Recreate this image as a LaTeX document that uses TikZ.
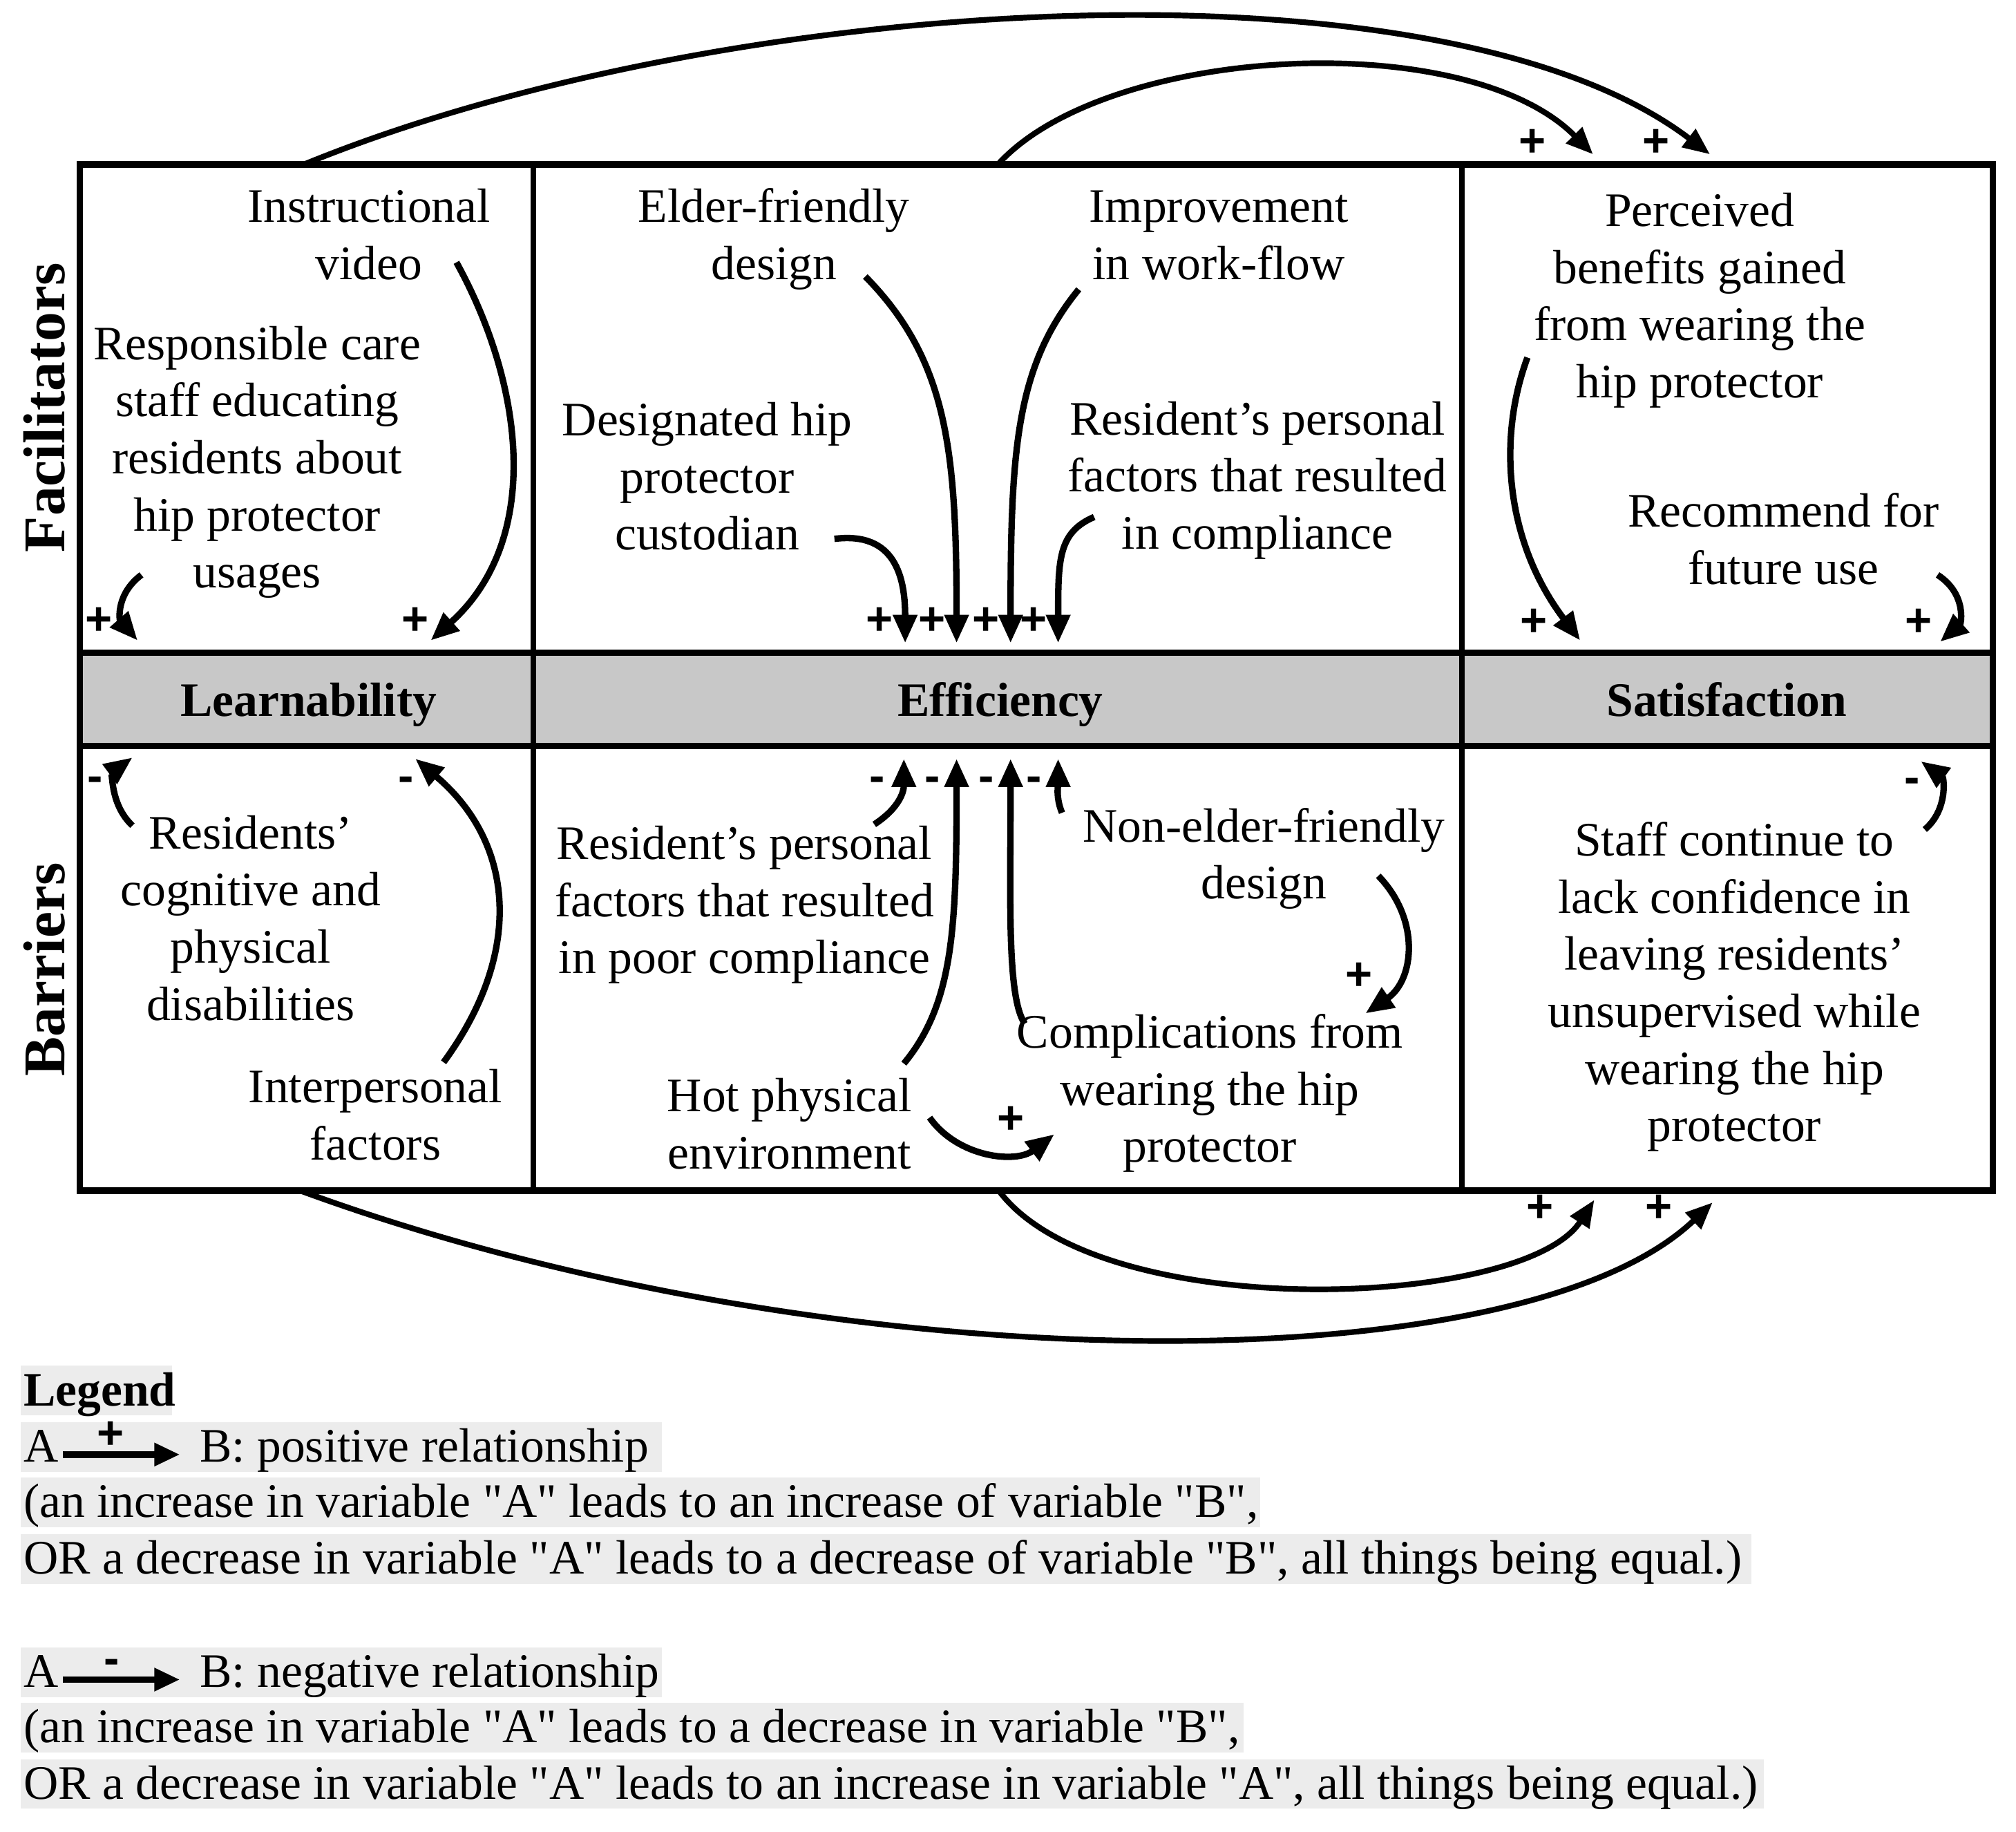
\documentclass[tikz,border=0pt]{standalone}
\usepackage{fontspec}
\setmainfont{Liberation Serif}[Ligatures=TeXOff]
\newfontfamily\signfont{Liberation Sans}
\usetikzlibrary{arrows.meta}
\definecolor{bandgray}{RGB}{200,200,200}
\definecolor{hlgray}{RGB}{236,236,236}
\begin{document}
\begin{tikzpicture}[x=0.5pt,y=-0.5pt,
  txt/.style={align=center,font=\fontsize{18.7}{22.2}\selectfont,inner sep=0pt,anchor=base},
  hdr/.style={font=\fontsize{18.7}{22.2}\selectfont\bfseries,inner sep=0pt,anchor=base},
  side/.style={font=\fontsize{23}{27}\selectfont\bfseries,rotate=90,inner sep=0pt,anchor=base},
  sgn/.style={font=\signfont\fontsize{18}{20}\selectfont\bfseries,inner sep=0pt},
  arr/.style={line width=2.5pt,-{Triangle[length=11pt,width=9pt]}},
  longarr/.style={line width=2.2pt,-{Triangle[length=10.5pt,width=8.5pt]}},
  frame/.style={line width=2.6pt},
  divider/.style={line width=2.2pt},
  leg/.style={font=\fontsize{18.7}{22.2}\selectfont,inner sep=0pt,anchor=base west},
]
\useasboundingbox (0,0) rectangle (1568,1424.5);
\fill[white] (0,0) rectangle (1568,1424.5);

% ---------- grid ----------
\fill[bandgray] (62,507.6) rectangle (1550,580);
\draw[divider] (415,128) -- (415,926);
\draw[divider] (1137,128) -- (1137,926);
\draw[frame] (62,507.6) -- (1550,507.6);
\draw[frame] (62,580) -- (1550,580);
\draw[frame] (62,128) rectangle (1550,926);

% ---------- row and column labels ----------
\node[side] (fac) at (50,317) {Facilitators};
\node[side] (bar) at (50,754) {Barriers};
\node[hdr] (learn) at (240,557) {Learnability};
\node[hdr] (effic) at (778,557) {Efficiency};
\node[hdr] (satis) at (1343,557) {Satisfaction};

% ---------- facilitator texts (base = last line) ----------
\node[txt] (vid) at (287,217.1) {Instructional\\video};
\node[txt] (resp) at (200,457.2) {Responsible care\\staff educating\\residents about\\hip protector\\usages};
\node[txt] (elder) at (602,217.1) {Elder-friendly\\design};
\node[txt] (work) at (948,217.1) {Improvement\\in work-flow};
\node[txt] (cust) at (550,427.6) {Designated hip\\protector\\custodian};
\node[txt] (rcomp) at (978,426.8) {Resident’s personal\\factors that resulted\\in compliance};
\node[txt] (perc) at (1322,309.2) {Perceived\\benefits gained\\from wearing the\\hip protector};
\node[txt] (recom) at (1387,454.1) {Recommend for\\future use};

% ---------- barrier texts ----------
\node[txt] (cogn) at (195,793.2) {Residents’\\cognitive and\\physical\\disabilities};
\node[txt] (inter) at (292,901.8) {Interpersonal\\factors};
\node[txt] (poor) at (579,757) {Resident’s personal\\factors that resulted\\in poor compliance};
\node[txt] (nonel) at (983,698.9) {Non-elder-friendly\\design};
\node[txt] (compl) at (941,903.7) {Complications from\\wearing the hip\\protector};
\node[txt] (hot) at (614,908.7) {Hot physical\\environment};
\node[txt] (staff) at (1349,887.5) {Staff continue to\\lack confidence in\\leaving residents’\\unsupervised while\\wearing the hip\\protector};

% ---------- connector end points ----------
\coordinate (lT) at (236,128);  \coordinate (eT) at (776,128);
\coordinate (sT1) at (1239,120); \coordinate (sT2) at (1330,120);
\coordinate (lB) at (234,926);  \coordinate (eB) at (777,926);
\coordinate (sB1) at (1240,933); \coordinate (sB2) at (1332,935);

\coordinate (vidS) at (355,204);   \coordinate (lUp2) at (335,498);
\coordinate (respS) at (110,447);  \coordinate (lUp1) at (107,498);
\coordinate (custS) at (649,419);  \coordinate (eUp1) at (704,500);
\coordinate (elderS) at (673,215); \coordinate (eUp2) at (744,500);
\coordinate (workS) at (839,225);  \coordinate (eUp3) at (786,500);
\coordinate (rcompS) at (851,402); \coordinate (eUp4) at (823,500);
\coordinate (percS) at (1188,278); \coordinate (sUp1) at (1229,498);
\coordinate (recomS) at (1507,447);\coordinate (sUp2) at (1509,499);

\coordinate (cognS) at (103,642);  \coordinate (lDn1) at (103,589);
\coordinate (interS) at (345,826); \coordinate (lDn2) at (323,590);
\coordinate (poorS) at (680,641);  \coordinate (eDn1) at (703,590);
\coordinate (hotS) at (703,827);   \coordinate (eDn2) at (744,590);
\coordinate (complS) at (797,796); \coordinate (eDn3) at (786,590);
\coordinate (nonelS) at (826,632); \coordinate (eDn4) at (823,590);
\coordinate (nonelS2) at (1072,681); \coordinate (complE1) at (1062,788);
\coordinate (hotS2) at (723,869);  \coordinate (complE2) at (820,882);
\coordinate (staffS) at (1497,645);\coordinate (sDn1) at (1494,592);

% ---------- long arcs ----------
\draw[longarr] (lT) .. controls (560,-5) and (1120,-40) .. (sT2);
\draw[longarr] (eT) .. controls (860,35) and (1140,20) .. (sT1);
\draw[longarr] (lB) .. controls (640,1075) and (1180,1080) .. (sB2);
\draw[longarr] (eB) .. controls (855,1030) and (1185,1018) .. (sB1);
\node[sgn] (p1) at (1192,111) {+};
\node[sgn] (p2) at (1288,111) {+};
\node[sgn] (p3) at (1198,940) {+};
\node[sgn] (p4) at (1290,940) {+};

% ---------- facilitator arrows ----------
\draw[arr] (vidS) .. controls (408,300) and (422,420) .. (lUp2);
\draw[arr] (respS) .. controls (90,462) and (93,482) .. (lUp1);
\draw[arr] (custS) .. controls (697,413) and (704,450) .. (eUp1);
\draw[arr] (elderS) .. controls (737,280) and (744,350) .. (eUp2);
\draw[arr] (workS) .. controls (790,285) and (786,350) .. (eUp3);
\draw[arr] (rcompS) .. controls (823,414) and (823,435) .. (eUp4);
\draw[arr] (percS) .. controls (1165,340) and (1170,420) .. (sUp1);
\draw[arr] (recomS) .. controls (1530,462) and (1525,485) .. (sUp2);
\node[sgn] (p5) at (77,483) {+};
\node[sgn] (p6) at (323,483) {+};
\node[sgn] (p7) at (684,483) {+};
\node[sgn] (p8) at (725,483) {+};
\node[sgn] (p9) at (767,483) {+};
\node[sgn] (p10) at (804,483) {+};
\node[sgn] (p11) at (1193,484) {+};
\node[sgn] (p12) at (1492,484) {+};

% ---------- barrier arrows ----------
\draw[arr] (cognS) .. controls (85,625) and (88,600) .. (lDn1);
\draw[arr] (interS) .. controls (408,740) and (400,655) .. (lDn2);
\draw[arr] (poorS) .. controls (700,628) and (703,615) .. (eDn1);
\draw[arr] (hotS) .. controls (742,780) and (744,720) .. (eDn2);
\draw[arr] (complS) .. controls (783,775) and (786,700) .. (eDn3);
\draw[arr] (nonelS) .. controls (821,620) and (823,610) .. (eDn4);
\draw[arr] (nonelS2) .. controls (1105,715) and (1100,762) .. (complE1);
\draw[arr] (hotS2) .. controls (745,900) and (790,905) .. (complE2);
\draw[arr] (staffS) .. controls (1515,630) and (1512,605) .. (sDn1);
\node[sgn] (m1) at (74,610) {-};
\node[sgn] (m2) at (316,610) {-};
\node[sgn] (m3) at (682,610) {-};
\node[sgn] (m4) at (725,610) {-};
\node[sgn] (m5) at (767,610) {-};
\node[sgn] (m6) at (804,610) {-};
\node[sgn] (m7) at (1487,611) {-};
\node[sgn] (p13) at (1057,759) {+};
\node[sgn] (p14) at (786,871) {+};

% ---------- legend ----------
\fill[hlgray] (16,1062) rectangle (134,1100.5);
\fill[hlgray] (16,1106) rectangle (515,1144.5);
\fill[hlgray] (16,1149) rectangle (980,1187.5);
\fill[hlgray] (16,1193) rectangle (1362,1231.5);
\fill[hlgray] (16,1281) rectangle (515,1319.5);
\fill[hlgray] (16,1324) rectangle (967,1362.5);
\fill[hlgray] (16,1368) rectangle (1372,1406.5);

\node[leg,font=\fontsize{18.7}{22.2}\selectfont\bfseries] (legend) at (18,1093) {Legend};
\node[leg] (pa) at (18,1137) {A};
\node[leg] (pb) at (155,1137) {B: positive relationship};
\coordinate (pas) at (49,1131); \coordinate (pae) at (140,1131);
\draw[line width=2.6pt,-{Triangle[length=10pt,width=8.5pt]}] (pas) -- (pae);
\node[sgn] (lp) at (86,1116) {+};
\node[leg] (pl2) at (18,1180) {(an increase in variable "A" leads to an increase of variable "B",};
\node[leg] (pl3) at (18,1224) {OR a decrease in variable "A" leads to a decrease of variable "B", all things being equal.)};

\node[leg] (na) at (18,1312) {A};
\node[leg] (nb) at (155,1312) {B: negative relationship};
\coordinate (nas) at (49,1306); \coordinate (nae) at (140,1306);
\draw[line width=2.6pt,-{Triangle[length=10pt,width=8.5pt]}] (nas) -- (nae);
\node[sgn] (lm) at (87,1296) {-};
\node[leg] (nl2) at (18,1355) {(an increase in variable "A" leads to a decrease in variable "B",};
\node[leg] (nl3) at (18,1399) {OR a decrease in variable "A" leads to an increase in variable "A", all things being equal.)};
\end{tikzpicture}
\end{document}
